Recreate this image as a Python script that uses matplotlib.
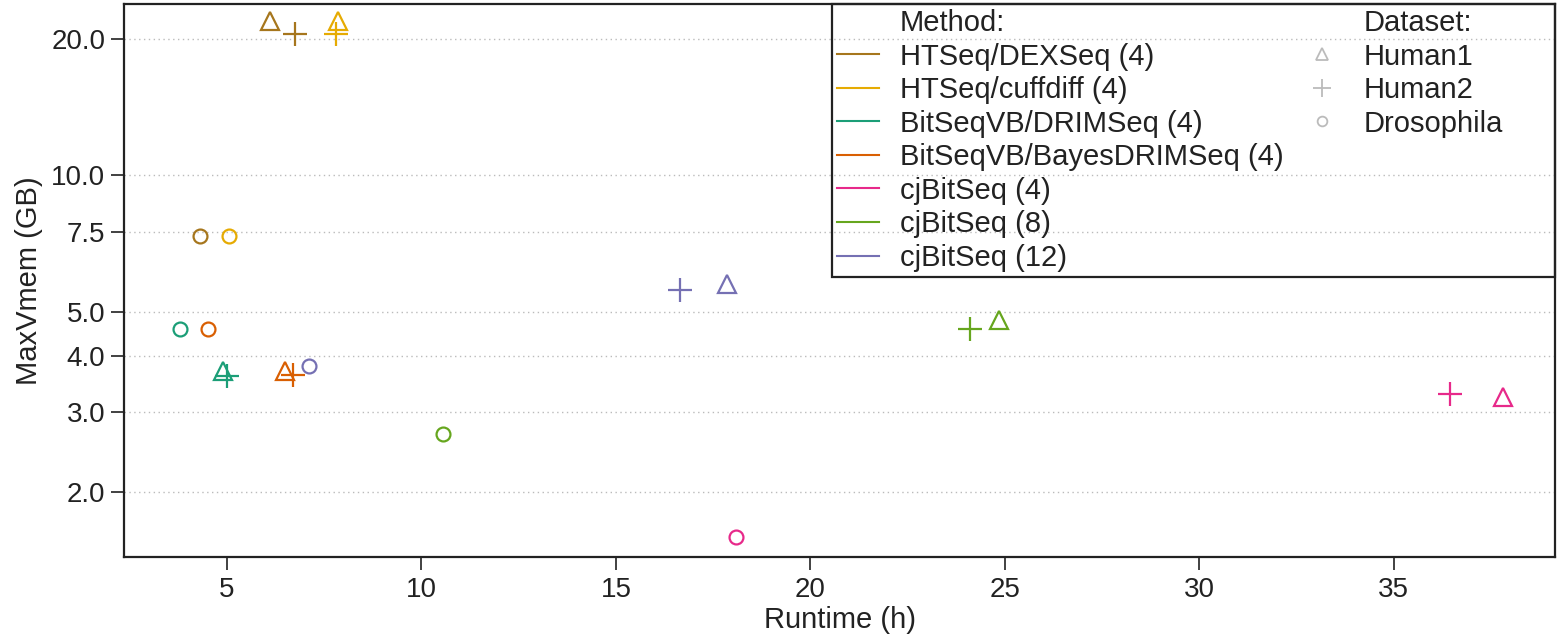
import matplotlib
matplotlib.use("Agg")
import matplotlib.pyplot as plt
from matplotlib.lines import Line2D
from matplotlib.patches import Rectangle

plt.rcParams['font.family'] = ['Liberation Sans', 'DejaVu Sans']

methods = ["HTSeq/DEXSeq (4)", "HTSeq/cuffdiff (4)", "BitSeqVB/DRIMSeq (4)",
           "BitSeqVB/BayesDRIMSeq (4)", "cjBitSeq (4)", "cjBitSeq (8)", "cjBitSeq (12)"]
colors = ["#A6761D", "#E6AB02", "#1B9E77", "#D95F02", "#E7298A", "#66A61E", "#7570B3"]
datasets = ["Human1", "Human2", "Drosophila"]
markers = ["^", "+", "o"]

# runtime (h) per dataset, in method order
runtime_human1 = [6.1, 7.85, 4.9, 6.5, 37.8, 24.85, 17.85]
runtime_human2 = [6.75, 7.8, 5.0, 6.7, 36.45, 24.1, 16.65]
runtime_droso = [4.3, 5.05, 3.8, 4.5, 18.1, 10.55, 7.1]
# MaxVmem (GB)
mem_human1 = [21.9, 21.9, 3.70, 3.70, 3.24, 4.80, 5.77]
mem_human2 = [20.5, 20.5, 3.61, 3.63, 3.29, 4.59, 5.57]
mem_droso = [7.33, 7.33, 4.59, 4.59, 1.59, 2.69, 3.80]

runtimes = [runtime_human1, runtime_human2, runtime_droso]
mems = [mem_human1, mem_human2, mem_droso]

yticks = [2.0, 3.0, 4.0, 5.0, 7.5, 10.0, 20.0]
xticks = [5, 10, 15, 20, 25, 30, 35]

W, H = 1557, 640
fig = plt.figure(figsize=(W / 100, H / 100), dpi=100)
ax_l, ax_r, ax_t, ax_b = 124, 1555, 4, 557
ax = fig.add_axes([ax_l / W, (H - ax_b) / H, (ax_r - ax_l) / W, (ax_b - ax_t) / H])


def fx(px):
    return (px - ax_l) / (ax_r - ax_l)


def fy(py):
    return (ax_b - py) / (ax_b - ax_t)


msizes = {"^": 13, "+": 17, "o": 10}
for rt, mm, mk in zip(runtimes, mems, markers):
    for i in range(len(methods)):
        if mk == "+":
            ax.plot(rt[i], mm[i], marker=mk, color=colors[i], markersize=msizes[mk],
                    markeredgewidth=1.6, linestyle='none', zorder=3)
        else:
            ax.plot(rt[i], mm[i], marker=mk, markerfacecolor='none',
                    markeredgecolor=colors[i], markersize=msizes[mk],
                    markeredgewidth=1.6, linestyle='none', zorder=3)

ax.set_yscale('log')
ax.set_ylim(1.437, 23.9)
ax.set_xlim(2.35, 39.15)
ax.set_yticks(yticks)
ax.set_yticklabels([f"{v:.1f}" for v in yticks])
ax.yaxis.set_minor_locator(matplotlib.ticker.NullLocator())
ax.set_xticks(xticks)
ax.set_xticklabels([str(v) for v in xticks])
ax.tick_params(axis='both', direction='out', length=9.5, width=1.3, labelsize=20,
               color='#333333', labelcolor='#222222')
ax.tick_params(axis='y', pad=4)
ax.tick_params(axis='x', pad=5)
ax.yaxis.grid(True, linestyle=(0, (1, 2.5)), color='#bbbbbb', linewidth=1.0)
ax.set_axisbelow(True)
for s in ax.spines.values():
    s.set_linewidth(1.6)
    s.set_color('#222222')

ax.set_xlabel("Runtime (h)", fontsize=21, color='#222222', labelpad=2)
ax.set_ylabel("MaxVmem (GB)", fontsize=21, color='#222222', labelpad=6)

LFS = 21
blank = Line2D([], [], linestyle='none', marker=None)
common = dict(loc='upper left', borderaxespad=0, borderpad=0, fontsize=LFS,
              frameon=False, handlelength=1.43, handletextpad=0.72, labelspacing=0.19)

# Method legend
h1 = [blank] + [Line2D([], [], color=c, linewidth=1.5) for c in colors]
l1 = ["Method:"] + methods
leg1 = ax.legend(h1, l1, bbox_to_anchor=(fx(837), fy(9)), **common)
for t in leg1.get_texts():
    t.set_color('#222222')
ax.add_artist(leg1)

# Dataset legend
h2 = [blank]
for mk in markers:
    if mk == "+":
        h2.append(Line2D([], [], marker=mk, color='#bbbbbb', linestyle='none',
                         markersize=13, markeredgewidth=1.3))
    else:
        h2.append(Line2D([], [], marker=mk, markerfacecolor='none',
                         markeredgecolor='#bbbbbb', linestyle='none',
                         markersize=9 if mk == "^" else 7, markeredgewidth=1.3))
l2 = ["Dataset:"] + datasets
leg2 = ax.legend(h2, l2, bbox_to_anchor=(fx(1301), fy(9)), **common)
for t in leg2.get_texts():
    t.set_color('#222222')

# Legend frame
x0, y0 = fx(832), fy(277)
ax.add_patch(Rectangle((x0, y0), 1 - x0, 1 - y0, transform=ax.transAxes, fill=False,
                       edgecolor='#222222', linewidth=1.6, clip_on=False, zorder=5))

fig.savefig("out.png", dpi=100)
